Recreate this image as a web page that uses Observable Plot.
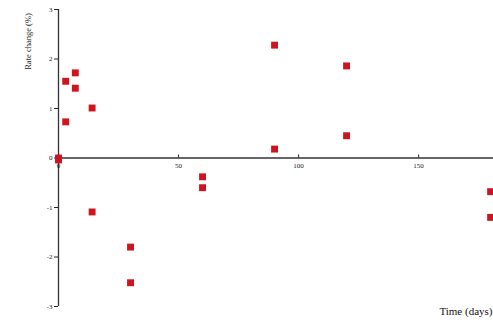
<!DOCTYPE html>
<html>
<head>
<meta charset="utf-8">
<script src="https://cdn.jsdelivr.net/npm/d3@7"></script>
<script src="https://cdn.jsdelivr.net/npm/@observablehq/plot@0.6"></script>
<style>
  html, body { margin: 0; padding: 0; background: #fff; }
  #chart svg { display: block; }
</style>
</head>
<body>
<div id="chart"></div>
<script>
// Measured change over time
const days   = [0, 0, 3, 3, 7, 7, 14, 14, 30, 30, 60, 60, 90, 90, 120, 120, 180, 180];
const change = [0, -0.04, 1.55, 0.73, 1.72, 1.41, 1.01, -1.09, -1.8, -2.52, -0.38, -0.6, 2.28, 0.18, 1.86, 0.45, -0.68, -1.2];
const xTicks = [0, 50, 100, 150];
const yTicks = [-3, -2, -1, 0, 1, 2, 3];
const xLabel = "Time (days)";
const yLabel = "Rate change (%)";

const data = days.map((d, i) => ({day: d, value: change[i]}));
const serif = "Liberation Serif, Times New Roman, serif";

const chart = Plot.plot({
  width: 493,
  height: 324,
  marginLeft: 58,
  marginRight: 0,
  marginTop: 9,
  marginBottom: 18,
  style: {fontFamily: serif, background: "#fff"},
  x: {domain: [0, 181.2], axis: null},
  y: {domain: [-3, 3], axis: null},
  marks: [
    // vertical axis line and ticks
    Plot.ruleX([0], {y1: -3, y2: 3, stroke: "#333", strokeWidth: 1.3}),
    Plot.axisY(yTicks, {
      ticks: yTicks, tickSize: 4, tickPadding: 2, stroke: "#222",
      tickFormat: d => String(d), fontSize: 7, fontFamily: serif, fill: "#222", label: null
    }),
    // horizontal axis drawn through zero
    Plot.ruleY([0], {stroke: "#333", strokeWidth: 1.3}),
    Plot.ruleX(xTicks, {x: d => d, y1: 0, y2: 0, insetTop: -3, stroke: "#222"}),
    Plot.text(xTicks, {x: d => d, y: 0, dy: 8, text: d => String(d), fontSize: 7, fill: "#222"}),
    // axis titles
    Plot.text([yLabel], {frameAnchor: "top-left", textAnchor: "middle", dx: -34, dy: 32, rotate: -90, text: d => d, fontSize: 8.5, fill: "#222"}),
    Plot.text([xLabel], {frameAnchor: "bottom-right", textAnchor: "end", dx: -1, dy: 8, text: d => d, fontSize: 11, fill: "#111"}),
    // observations
    Plot.dot(data, {x: "day", y: "value", symbol: "square", r: 3.9, fill: "#d0141f", stroke: null})
  ]
});
document.getElementById("chart").appendChild(chart);
</script>
</body>
</html>
